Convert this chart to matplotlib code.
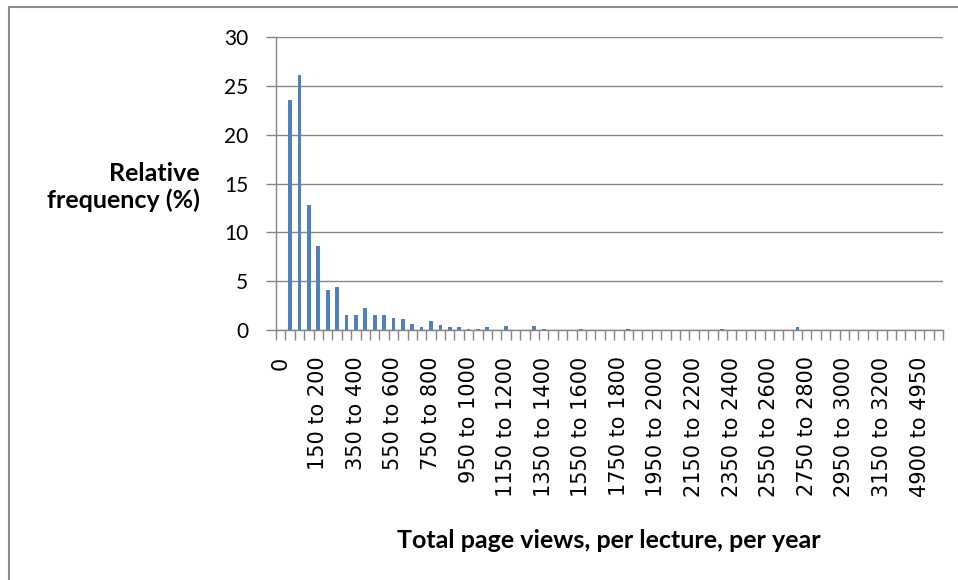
import matplotlib
matplotlib.use("Agg")
import matplotlib.pyplot as plt
from matplotlib.patches import Rectangle
import numpy as np

# bin labels (only every 4th one is printed on the axis)
categories = [
    "0", "1 to 50", "50 to 100", "100 to 150", "150 to 200", "200 to 250",
    "250 to 300", "300 to 350", "350 to 400", "400 to 450", "450 to 500",
    "500 to 550", "550 to 600", "600 to 650", "650 to 700", "700 to 750",
    "750 to 800", "800 to 850", "850 to 900", "900 to 950", "950 to 1000",
    "1000 to 1050", "1050 to 1100", "1100 to 1150", "1150 to 1200",
    "1200 to 1250", "1250 to 1300", "1300 to 1350", "1350 to 1400",
    "1400 to 1450", "1450 to 1500", "1500 to 1550", "1550 to 1600",
    "1600 to 1650", "1650 to 1700", "1700 to 1750", "1750 to 1800",
    "1800 to 1850", "1850 to 1900", "1900 to 1950", "1950 to 2000",
    "2000 to 2050", "2050 to 2100", "2100 to 2150", "2150 to 2200",
    "2200 to 2250", "2250 to 2300", "2300 to 2350", "2350 to 2400",
    "2400 to 2450", "2450 to 2500", "2500 to 2550", "2550 to 2600",
    "2600 to 2650", "2650 to 2700", "2700 to 2750", "2750 to 2800",
    "2800 to 2850", "2850 to 2900", "2900 to 2950", "2950 to 3000",
    "3000 to 3050", "3050 to 3100", "3100 to 3150", "3150 to 3200",
    "3200 to 3250", "3400 to 3450", "3900 to 3950", "4900 to 4950",
    "5500 to 5550", "6200 to 6250",
]

# relative frequency (%) per bin
rel_freq = [
    0.0, 23.6, 26.1, 12.8, 8.6, 4.1, 4.4, 1.5, 1.5, 2.3, 1.5,
    1.5, 1.2, 1.1, 0.6, 0.35, 0.95, 0.5, 0.3, 0.3, 0.15,
    0.15, 0.3, 0.0, 0.45, 0.0, 0.0, 0.45, 0.15, 0.0, 0.0,
    0.0, 0.15, 0.0, 0.0, 0.0, 0.0, 0.15, 0.0, 0.0, 0.0,
    0.0, 0.0, 0.0, 0.0, 0.0, 0.0, 0.15, 0.0, 0.0, 0.0,
    0.0, 0.0, 0.0, 0.0, 0.3, 0.0, 0.0, 0.0, 0.0, 0.0,
    0.0, 0.0, 0.0, 0.0, 0.0, 0.0, 0.0, 0.0, 0.0, 0.0,
]

grey = "#868686"
font = ["Lato", "DejaVu Sans"]

fig = plt.figure(figsize=(9.58, 5.8), dpi=100)
ax = fig.add_axes([276 / 958, 1 - 330 / 580, 667 / 958, 293 / 580])

# outer chart frame (right and bottom edges fall off the picture)
fig.add_artist(Rectangle((9 / 958, -0.1), 1.2, 1.1 - 7 / 580,
                         transform=fig.transFigure, fill=False,
                         edgecolor="#8c8c8c", linewidth=1.5))

x = np.arange(len(categories))
ax.bar(x, rel_freq, width=0.4, color="#4F81BD", zorder=3)

ax.set_xlim(-0.5, len(categories) - 0.5)
ax.set_ylim(0, 30)
ax.set_yticks([0, 5, 10, 15, 20, 25, 30])
ax.yaxis.grid(True, color=grey, linewidth=1)
ax.set_axisbelow(True)

# category ticks sit between bars, labels every 4th bin
ax.set_xticks(np.arange(len(categories) + 1) - 0.5)
ax.set_xticklabels([])
ax.set_xticks(x[::4], minor=True)
ax.set_xticklabels(categories[::4], minor=True, rotation=90,
                   fontsize=15, family="DejaVu Sans")
ax.tick_params(axis="x", which="major", length=7, color=grey, width=1)
ax.tick_params(axis="x", which="minor", length=0, pad=19)
ax.tick_params(axis="y", length=7, color=grey, width=1, pad=13,
               labelsize=15)
for lab in ax.get_yticklabels():
    lab.set_family(font)

for side in ["top", "right"]:
    ax.spines[side].set_visible(False)
for side in ["left", "bottom"]:
    ax.spines[side].set_color(grey)
    ax.spines[side].set_linewidth(1)

fig.text(200 / 958, 1 - 187 / 580, "Relative\nfrequency (%)", ha="right",
         va="center", multialignment="right", fontsize=18,
         fontweight="bold", family=font, linespacing=1.2)
fig.text(609 / 958, 1 - 540 / 580, "Total page views, per lecture, per year",
         ha="center", va="center", fontsize=18, fontweight="bold",
         family=font)

fig.savefig("out.png", dpi=100)
